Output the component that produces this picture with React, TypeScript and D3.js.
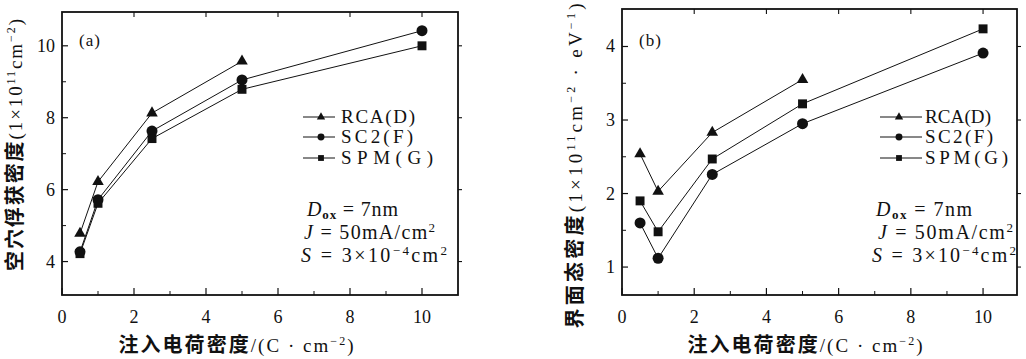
import * as d3 from "d3";

// injected charge density (C/cm^2)
const chargeX = [0.5, 1, 2.5, 5, 10];

// (a) hole trap density, 1e11 cm^-2
const rcaTrap = [4.78, 6.22, 8.13, 9.57];
const sc2Trap = [4.27, 5.72, 7.63, 9.05, 10.42];
const spmTrap = [4.22, 5.62, 7.42, 8.79, 10.0];

// (b) interface state density, 1e11 cm^-2 eV^-1
const rcaDit = [2.54, 2.03, 2.83, 3.55];
const sc2Dit = [1.6, 1.12, 2.26, 2.95, 3.91];
const spmDit = [1.9, 1.48, 2.47, 3.22, 4.24];

const xMajor = [0, 2, 4, 6, 8, 10];
const xMinor = [1, 3, 5, 7, 9];
const yMajorA = [4, 6, 8, 10];
const yMinorA = [5, 7, 9];
const yMajorB = [1, 2, 3, 4];
const yMinorB = [1.5, 2.5, 3.5];

const seriesNames = ["RCA(D)", "SC2(F)", "SPM(G)"];
const markers = [d3.symbolTriangle, d3.symbolCircle, d3.symbolSquare];
const markerSize = [58, 95, 80];
const legendMarkerSize = [30, 38, 34];

const SERIF = { fontFamily: "Liberation Serif, Times New Roman, DejaVu Serif, serif" };
const CJK = { fontFamily: "Noto Sans CJK SC, sans-serif", fontWeight: 700, fontSize: 20 };

function Panel({ box, xDomain, yDomain, yMajor, yMinor, data, tag, yLabel, opts }) {
  const x = d3.scaleLinear().domain(xDomain).range([box.left, box.right]);
  const y = d3.scaleLinear().domain(yDomain).range([box.bottom, box.top]);
  const line = d3
    .line()
    .x((d) => x(d[0]))
    .y((d) => y(d[1]));

  return (
    <g style={SERIF} fill="#111">
      {/* data lines and markers */}
      {data.map((vals, i) => {
        const pts = vals.map((v, k) => [chargeX[k], v]);
        return (
          <g key={i}>
            <path d={line(pts)} fill="none" stroke="#111" strokeWidth={1} />
            {pts.map((p, k) => (
              <path
                key={k}
                d={d3.symbol().type(markers[i]).size(markerSize[i])()}
                transform={`translate(${x(p[0])},${y(p[1])})`}
                fill="#111"
              />
            ))}
          </g>
        );
      })}

      {/* frame */}
      <rect
        x={box.left}
        y={box.top}
        width={box.right - box.left}
        height={box.bottom - box.top}
        fill="none"
        stroke="#111"
        strokeWidth={1.8}
      />

      {/* bottom ticks, inward */}
      {xMajor.map((t) => (
        <line key={"xb" + t} x1={x(t)} x2={x(t)} y1={box.bottom} y2={box.bottom - 7} stroke="#111" strokeWidth={1.2} />
      ))}
      {xMinor.map((t) => (
        <line key={"xm" + t} x1={x(t)} x2={x(t)} y1={box.bottom} y2={box.bottom - 4} stroke="#111" strokeWidth={1} />
      ))}
      {/* top ticks */}
      {xMajor.slice(1).map((t) => (
        <line key={"xt" + t} x1={x(t)} x2={x(t)} y1={box.top} y2={box.top + 5} stroke="#111" strokeWidth={1.1} />
      ))}
      {/* left ticks */}
      {yMajor.map((t) => (
        <line key={"yl" + t} x1={box.left} x2={box.left + 6} y1={y(t)} y2={y(t)} stroke="#111" strokeWidth={1.2} />
      ))}
      {yMinor.map((t) => (
        <line key={"ym" + t} x1={box.left} x2={box.left + 4} y1={y(t)} y2={y(t)} stroke="#111" strokeWidth={1} />
      ))}
      {/* right ticks, outward */}
      {yMajor.map((t) => (
        <line key={"yr" + t} x1={box.right} x2={box.right + 4} y1={y(t)} y2={y(t)} stroke="#111" strokeWidth={1.1} />
      ))}

      {/* tick labels */}
      {xMajor.map((t) => (
        <text key={"lx" + t} x={x(t)} y={323} textAnchor="middle" fontSize={18}>
          {t}
        </text>
      ))}
      {yMajor.map((t) => (
        <text key={"ly" + t} x={box.left - 7} y={y(t) + 6} textAnchor="end" fontSize={18}>
          {t}
        </text>
      ))}

      <text x={box.left + 17} y={46} fontSize={17} letterSpacing={1}>
        {tag}
      </text>

      {/* legend */}
      {seriesNames.map((name, i) => {
        const ly = opts.legendY[i];
        return (
          <g key={name}>
            <line x1={opts.legLine[0]} x2={opts.legLine[1]} y1={ly} y2={ly} stroke="#111" strokeWidth={1} />
            <path
              d={d3.symbol().type(markers[i]).size(legendMarkerSize[i])()}
              transform={`translate(${opts.legMark},${ly})`}
            />
            <text x={opts.legText} y={ly + 6} fontSize={19} textLength={opts.legWidths[i]} lengthAdjust="spacing">
              {name}
            </text>
          </g>
        );
      })}

      {/* conditions */}
      <text x={opts.noteX[0]} y={216} fontSize={20} textLength={opts.noteW[0]} lengthAdjust="spacing">
        <tspan fontStyle="italic">D</tspan>
        <tspan fontSize={13} fontWeight="bold" dy={3}>ox</tspan>
        <tspan dy={-3}>{" = 7nm"}</tspan>
      </text>
      <text x={opts.noteX[1]} y={239} fontSize={20} textLength={opts.noteW[1]} lengthAdjust="spacing">
        <tspan fontStyle="italic">J</tspan>
        <tspan>{" = 50mA/cm"}</tspan>
        <tspan fontSize={13} dy={-7}>2</tspan>
      </text>
      <text x={opts.noteX[2]} y={262} fontSize={20} textLength={opts.noteW[2]} lengthAdjust="spacing">
        <tspan fontStyle="italic">S</tspan>
        <tspan>{" = 3×10"}</tspan>
        <tspan fontSize={13} dy={-7}>−4</tspan>
        <tspan dy={7}>cm</tspan>
        <tspan fontSize={13} dy={-7}>2</tspan>
      </text>

      {/* x label */}
      <text x={opts.xLabelX} y={352} textAnchor="middle" fontSize={19} textLength={235} lengthAdjust="spacing">
        <tspan style={CJK}>注入电荷密度</tspan>
        <tspan>/(C · cm</tspan>
        <tspan fontSize={12} dy={-7}>−2</tspan>
        <tspan dy={7}>)</tspan>
      </text>

      {/* y label */}
      <text
        transform={`translate(${opts.yLabelX},${opts.yLabelY}) rotate(-90)`}
        textAnchor="middle"
        fontSize={19}
        textLength={opts.yLabelLen}
        lengthAdjust="spacing"
      >
        {yLabel}
      </text>
    </g>
  );
}

export default function App() {
  return (
    <svg
      width={1026}
      height={359}
      viewBox="0 0 1026 359"
      style={{ position: "absolute", left: 0, top: 0, background: "#fff" }}
    >
      <Panel
        box={{ left: 62, right: 458, top: 12, bottom: 295 }}
        xDomain={[0, 11]}
        yDomain={[3.07, 10.94]}
        yMajor={yMajorA}
        yMinor={yMinorA}
        data={[rcaTrap, sc2Trap, spmTrap]}
        tag="(a)"
        yLabel={[
          <tspan key="c" style={CJK}>空穴俘获密度</tspan>,
          <tspan key="a">(1×10</tspan>,
          <tspan key="b" fontSize={12} dy={-7}>11</tspan>,
          <tspan key="d" dy={7}>cm</tspan>,
          <tspan key="e" fontSize={12} dy={-7}>−2</tspan>,
          <tspan key="f" dy={7}>)</tspan>,
        ]}
        opts={{
          legendY: [117, 137, 158],
          legLine: [303, 335],
          legMark: 321,
          legText: 341,
          legWidths: [74, 72, 92],
          noteX: [307, 304, 301],
          noteW: [91, 131, 146],
          xLabelX: 236,
          yLabelX: 22,
          yLabelY: 145,
          yLabelLen: 252,
        }}
      />
      <Panel
        box={{ left: 622, right: 1017, top: 9, bottom: 295 }}
        xDomain={[0, 10.94]}
        yDomain={[0.62, 4.51]}
        yMajor={yMajorB}
        yMinor={yMinorB}
        data={[rcaDit, sc2Dit, spmDit]}
        tag="(b)"
        yLabel={[
          <tspan key="c" style={CJK}>界面态密度</tspan>,
          <tspan key="a">(1×10</tspan>,
          <tspan key="b" fontSize={12} dy={-7}>11</tspan>,
          <tspan key="d" dy={7}>cm</tspan>,
          <tspan key="e" fontSize={12} dy={-7}>−2</tspan>,
          <tspan key="g" dy={7}>{" · eV"}</tspan>,
          <tspan key="h" fontSize={12} dy={-7}>−1</tspan>,
          <tspan key="f" dy={7}>)</tspan>,
        ]}
        opts={{
          legendY: [117, 137, 158],
          legLine: [880, 922],
          legMark: 899,
          legText: 925,
          legWidths: [66, 68, 83],
          noteX: [876, 878, 872],
          noteW: [96, 135, 144],
          xLabelX: 805,
          yLabelX: 582,
          yLabelY: 166,
          yLabelLen: 325,
        }}
      />
    </svg>
  );
}
